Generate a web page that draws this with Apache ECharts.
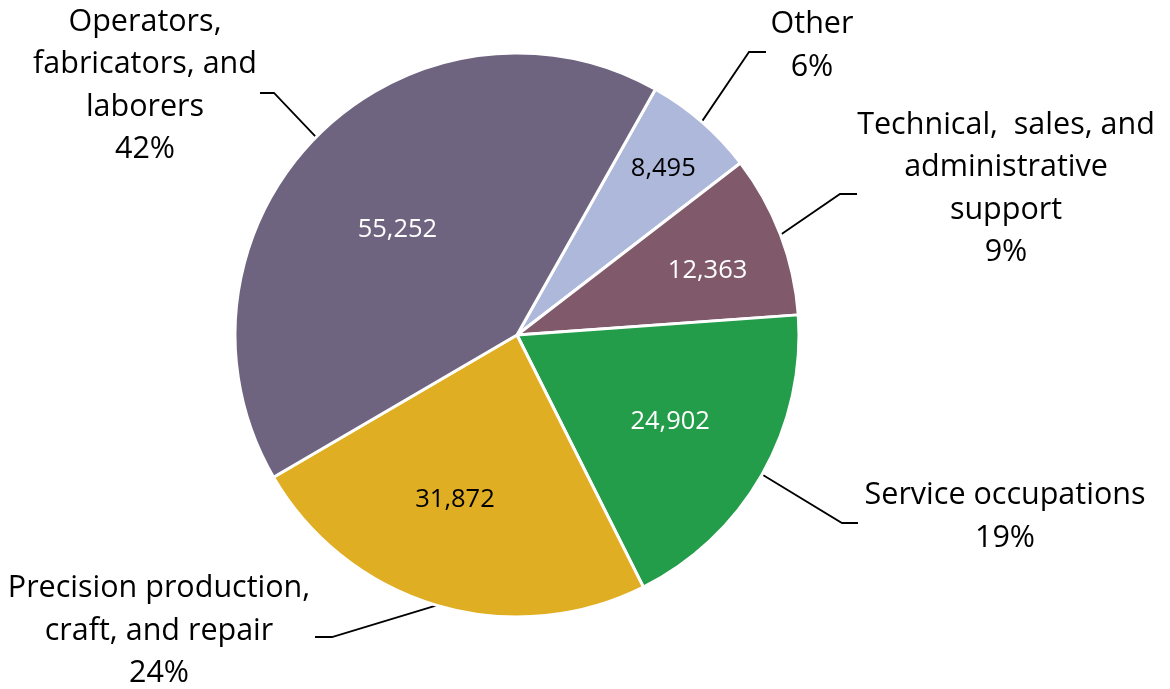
<!DOCTYPE html>
<html>
<head>
<meta charset="utf-8">
<script src="https://cdn.jsdelivr.net/npm/echarts@6/dist/echarts.min.js"></script>
<style>
  html, body { margin: 0; padding: 0; background: #fff; }
  #chart { width: 1170px; height: 689px; }
</style>
</head>
<body>
<div id="chart"></div>
<script>
  // slices in clockwise order, starting from the "Other" wedge near the top
  const categories = [
    'Other',
    'Technical,  sales, and\nadministrative\nsupport',
    'Service occupations',
    'Precision production,\ncraft, and repair',
    'Operators,\nfabricators, and\nlaborers'
  ];
  const workers = [8495, 12363, 24902, 31872, 55252];

  const sliceColors = ['#adb8da', '#805a6b', '#249d4a', '#e0ae22', '#6e6480'];
  const valueTextColors = ['#000', '#fff', '#fff', '#000', '#fff'];

  // name/percent blocks: [centerX, centerY, elbowX, elbowY, lineEndX]
  const nameLabelSpots = [
    [812, 46, 749, 52, 766],
    [1006, 189, 840, 194, 857],
    [1005, 517, 842, 523, 858],
    [159, 631, 332, 637, 315],
    [145, 86, 274, 93, 260]
  ];
  // nudge of each value label away from the default inside spot
  const valueLabelShift = [[52, -57], [56, -13], [28, 16], [-21, 27], [-17, -4]];

  const FONT = '"Open Sans", "Noto Sans", sans-serif';
  const pieCenter = [517, 335];
  const pieRadius = 282;
  const startAngle = 60.6;

  const chart = echarts.init(document.getElementById('chart'));

  chart.setOption({
    animation: false,
    backgroundColor: '#fff',
    series: [
      {
        type: 'pie',
        center: pieCenter,
        radius: pieRadius,
        startAngle: startAngle,
        clockwise: true,
        avoidLabelOverlap: false,
        emphasis: { disabled: true },
        itemStyle: { borderColor: '#fff', borderWidth: 3 },
        label: {
          position: 'inside',
          fontFamily: FONT,
          fontSize: 25.5,
          formatter: p => p.value.toLocaleString('en-US')
        },
        labelLine: { show: false },
        labelLayout: p => {
          const r = p.labelRect;
          const s = valueLabelShift[p.dataIndex];
          return {
            x: r.x + r.width / 2 + s[0],
            y: r.y + r.height / 2 + s[1],
            align: 'center',
            verticalAlign: 'middle'
          };
        },
        data: categories.map((name, i) => ({
          name: name,
          value: workers[i],
          itemStyle: { color: sliceColors[i] },
          label: { color: valueTextColors[i] }
        }))
      },
      {
        type: 'pie',
        silent: true,
        center: pieCenter,
        radius: pieRadius,
        startAngle: startAngle,
        clockwise: true,
        avoidLabelOverlap: false,
        percentPrecision: 0,
        emphasis: { disabled: true },
        itemStyle: { color: 'rgba(0,0,0,0)' },
        label: {
          position: 'outside',
          fontFamily: FONT,
          fontSize: 30.5,
          lineHeight: 42.5,
          color: '#000',
          overflow: 'none',
          formatter: '{b}\n{d}%'
        },
        labelLine: { show: true, lineStyle: { color: '#000', width: 1.8 } },
        labelLayout: p => {
          const s = nameLabelSpots[p.dataIndex];
          const start = p.labelLinePoints ? p.labelLinePoints[0] : [s[2], s[3]];
          return {
            x: s[0],
            y: s[1],
            align: 'center',
            verticalAlign: 'middle',
            labelLinePoints: [start, [s[2], s[3]], [s[4], s[3]]]
          };
        },
        data: categories.map((name, i) => ({ name: name, value: workers[i] }))
      }
    ]
  });
</script>
</body>
</html>
